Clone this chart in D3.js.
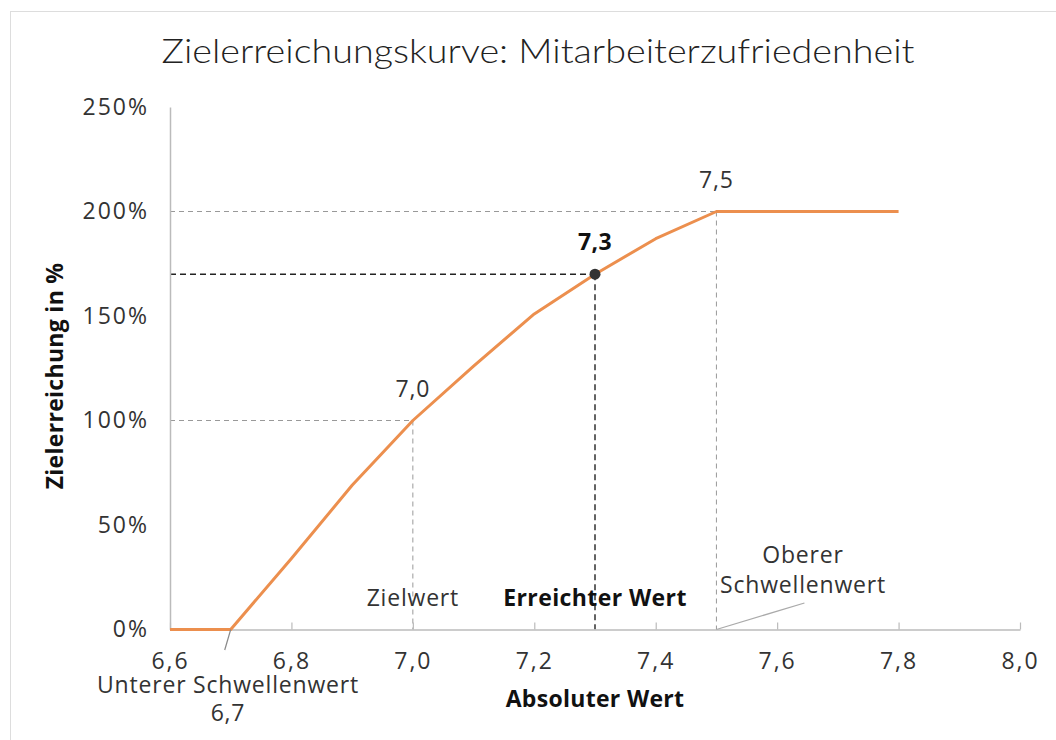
<!DOCTYPE html>
<html lang="de">
<head>
    <meta charset="UTF-8">
    <title>Zielerreichungskurve: Mitarbeiterzufriedenheit</title>
    <script src="https://d3js.org/d3.v7.min.js"></script>
    <style>
        body { margin: 0; background: #fff; }
        text { font-family: "Open Sans", Lato, sans-serif; fill: #333; }
        .tick-label { font-size: 23px; letter-spacing: 2px; }
        .note { font-size: 23px; letter-spacing: 0.8px; }
        .strong { font-size: 23px; font-weight: bold; fill: #111; letter-spacing: 0.4px; }
        .axis-title { font-size: 23px; font-weight: bold; fill: #111; letter-spacing: 0.3px; }
    </style>
</head>
<body>
    <svg width="1056" height="740"></svg>
    <script>
        // Daten: Absoluter Wert -> Zielerreichung in %
        const absoluteWerte = [6.6, 6.7, 6.8, 6.9, 7.0, 7.1, 7.2, 7.3, 7.4, 7.5, 7.6, 7.7, 7.8];
        const zielerreichung = [0, 0, 34, 69, 100, 126, 151, 170, 187, 200, 200, 200, 200];

        const xTicks = [6.6, 6.8, 7.0, 7.2, 7.4, 7.6, 7.8, 8.0];
        const yTicks = [0, 50, 100, 150, 200, 250];

        // Markierte Werte (Zielwert, Erreichter Wert, Oberer Schwellenwert)
        const markWerte = [7.0, 7.3, 7.5];
        const markZiel = [100, 170, 200];
        const markLabels = ["7,0", "7,3", "7,5"];
        const markNamen = ["Zielwert", "Erreichter Wert", ""];

        const untererSchwelle = 6.7;

        const svg = d3.select("svg");

        // leichter Rahmen
        svg.append("rect")
            .attr("x", 10.5).attr("y", 11.5)
            .attr("width", 1100).attr("height", 800)
            .attr("fill", "none").attr("stroke", "#ddd");

        const x = d3.scaleLinear().domain([6.6, 8.0]).range([170, 1020]);
        const y = d3.scaleLinear().domain([0, 250]).range([629.5, 107]);

        const fmt = d => d3.format(".1f")(d).replace(".", ",");

        // Titel
        svg.append("text")
            .attr("x", 538).attr("y", 63)
            .attr("text-anchor", "middle")
            .attr("textLength", 753)
            .attr("lengthAdjust", "spacingAndGlyphs")
            .style("font-family", "Lato, 'Open Sans', sans-serif")
            .style("font-size", "33px")
            .style("font-weight", 300)
            .style("fill", "#222")
            .text("Zielerreichungskurve: Mitarbeiterzufriedenheit");

        // Hilfslinien (gestrichelt)
        markWerte.forEach((w, i) => {
            const dark = i === 1;
            const g = svg.append("g")
                .attr("stroke", dark ? "#222" : "#999")
                .attr("stroke-width", dark ? 1.4 : 1)
                .attr("stroke-dasharray", dark ? "6,4" : "5,4");
            g.append("line")
                .attr("x1", x(6.6)).attr("x2", x(w))
                .attr("y1", y(markZiel[i])).attr("y2", y(markZiel[i]));
            g.append("line")
                .attr("x1", x(w)).attr("x2", x(w))
                .attr("y1", y(markZiel[i])).attr("y2", y(0));
        });

        // X-Achse
        const xAxis = svg.append("g")
            .attr("transform", `translate(0,${y(0)})`)
            .call(d3.axisBottom(x).tickValues(xTicks).tickSizeInner(-7).tickSizeOuter(0).tickFormat(fmt));
        xAxis.select(".domain").attr("stroke", "#bbb").attr("stroke-width", 1.5);
        xAxis.selectAll(".tick line").attr("stroke", "#bbb").attr("stroke-width", 1.2);
        xAxis.selectAll(".tick text")
            .attr("class", "tick-label")
            .attr("y", 23)
            .attr("fill", null)
            .attr("font-size", null)
            .attr("font-family", null);

        // Y-Achse
        const yAxis = svg.append("g")
            .attr("transform", `translate(${x(6.6)},0)`)
            .call(d3.axisLeft(y).tickValues(yTicks).tickSize(0).tickPadding(21).tickFormat(d => d + "%"));
        yAxis.select(".domain").attr("stroke", "#bbb").attr("stroke-width", 1.5);
        yAxis.selectAll(".tick text")
            .attr("class", "tick-label")
            .attr("fill", null)
            .attr("font-size", null)
            .attr("font-family", null);

        // Kurve
        const linie = d3.line()
            .x((d, i) => x(absoluteWerte[i]))
            .y(d => y(d));
        svg.append("path")
            .datum(zielerreichung)
            .attr("fill", "none")
            .attr("stroke", "#ec8f4e")
            .attr("stroke-width", 3)
            .attr("stroke-linejoin", "round")
            .attr("d", linie);

        // Erreichter Wert als Punkt
        svg.append("circle")
            .attr("cx", x(markWerte[1]))
            .attr("cy", y(markZiel[1]))
            .attr("r", 5.5)
            .attr("fill", "#333");

        // Wertebeschriftungen
        markWerte.forEach((w, i) => {
            svg.append("text")
                .attr("class", i === 1 ? "strong" : "note")
                .attr("x", x(w))
                .attr("y", y(markZiel[i]) - 24)
                .attr("text-anchor", "middle")
                .text(markLabels[i]);
            if (markNamen[i]) {
                svg.append("text")
                    .attr("class", i === 1 ? "strong" : "note")
                    .attr("x", x(w))
                    .attr("y", 606)
                    .attr("text-anchor", "middle")
                    .text(markNamen[i]);
            }
        });

        // Oberer Schwellenwert
        svg.append("line")
            .attr("x1", x(7.5)).attr("y1", y(0))
            .attr("x2", x(7.5) + 88).attr("y2", 603)
            .attr("stroke", "#aaa").attr("stroke-width", 1.3);
        svg.append("text")
            .attr("class", "note")
            .attr("x", 803).attr("y", 563)
            .attr("text-anchor", "middle")
            .text("Oberer");
        svg.append("text")
            .attr("class", "note")
            .attr("x", 803).attr("y", 593)
            .attr("text-anchor", "middle")
            .text("Schwellenwert");

        // Unterer Schwellenwert
        svg.append("line")
            .attr("x1", x(untererSchwelle)).attr("y1", y(0))
            .attr("x2", x(untererSchwelle) - 6).attr("y2", 650)
            .attr("stroke", "#888").attr("stroke-width", 1.2);
        svg.append("text")
            .attr("class", "note")
            .attr("x", 228).attr("y", 693)
            .attr("text-anchor", "middle")
            .text("Unterer Schwellenwert");
        svg.append("text")
            .attr("class", "note")
            .attr("x", 228).attr("y", 721)
            .attr("text-anchor", "middle")
            .text(fmt(untererSchwelle));

        // Achsentitel
        svg.append("text")
            .attr("class", "axis-title")
            .attr("x", 595).attr("y", 707)
            .attr("text-anchor", "middle")
            .text("Absoluter Wert");

        svg.append("text")
            .attr("class", "axis-title")
            .attr("transform", "translate(63,376) rotate(-90)")
            .attr("text-anchor", "middle")
            .text("Zielerreichung in %");
    </script>
</body>
</html>
